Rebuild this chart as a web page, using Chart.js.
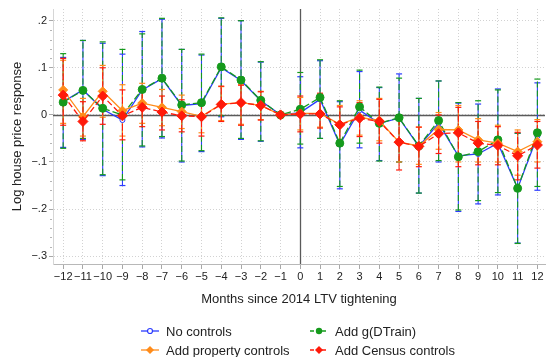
<!DOCTYPE html>
<html>
<head>
<meta charset="utf-8">
<script src="https://cdn.jsdelivr.net/npm/chart.js@4.4.1/dist/chart.umd.min.js"></script>
<style>
  html, body { margin: 0; padding: 0; background: #fff; }
  #wrap { position: relative; width: 551px; height: 357px; }
  #c { position: absolute; left: 0; top: 0; }
  .item { position: absolute; height: 16px; display: flex; align-items: center; white-space: nowrap;
          font: 13px 'Liberation Sans', Arial, Helvetica, sans-serif; color: #222; }
  .item svg { margin-right: 7px; }
</style>
</head>
<body>
<div id="wrap">
  <canvas id="c" width="551" height="357"></canvas>
  <div id="legend"></div>
</div>
<script>
// Event-study months around the 2014 LTV tightening
const months = [-12,-11,-10,-9,-8,-7,-6,-5,-4,-3,-2,-1,0,1,2,3,4,5,6,7,8,9,10,11,12];

// No controls
const noCtrl    = [0.028,0.053,0.012,-0.011,0.053,0.077,0.020,0.024,0.100,0.073,0.030,0,0.005,0.033,-0.063,0.010,-0.018,-0.007,-0.067,-0.018,-0.087,-0.083,-0.060,-0.156,-0.045];
const noCtrlLo  = [-0.069,-0.052,-0.129,-0.150,-0.068,-0.049,-0.100,-0.078,-0.004,-0.052,-0.056,null,-0.070,-0.050,-0.157,-0.070,-0.097,-0.100,-0.166,-0.100,-0.205,-0.189,-0.170,-0.272,-0.160];
const noCtrlHi  = [0.122,0.158,0.152,0.129,0.177,0.203,0.139,0.127,0.205,0.200,0.112,null,0.081,0.115,0.028,0.092,0.058,0.087,0.035,0.072,0.025,0.023,0.055,-0.039,0.068];

// Add g(DTrain)
const dtrain    = [0.027,0.052,0.014,0.000,0.054,0.078,0.021,0.026,0.102,0.074,0.031,0,0.012,0.037,-0.060,0.017,-0.018,-0.006,-0.066,-0.012,-0.089,-0.078,-0.053,-0.156,-0.038];
const dtrainLo  = [-0.071,-0.050,-0.127,-0.138,-0.066,-0.046,-0.098,-0.076,-0.002,-0.050,-0.055,null,-0.062,-0.050,-0.152,-0.060,-0.098,-0.100,-0.166,-0.097,-0.202,-0.182,-0.165,-0.273,-0.152];
const dtrainHi  = [0.130,0.158,0.155,0.139,0.172,0.205,0.139,0.129,0.206,0.200,0.113,null,0.090,0.117,0.030,0.095,0.059,0.078,0.035,0.072,0.026,0.030,0.053,-0.039,0.076];

// Add property controls
const propCtrl   = [0.053,-0.004,0.050,0.009,0.025,0.016,0.007,-0.003,0.023,0.026,0.020,0,0.003,0.003,-0.020,-0.005,-0.012,-0.058,-0.066,-0.031,-0.032,-0.053,-0.060,-0.078,-0.057];
const propCtrlLo = [-0.018,-0.045,-0.005,-0.045,-0.018,-0.023,-0.029,-0.038,-0.012,-0.020,-0.010,null,-0.032,-0.026,-0.060,-0.043,-0.055,-0.100,-0.105,-0.073,-0.100,-0.100,-0.100,-0.128,-0.100];
const propCtrlHi = [0.116,0.035,0.105,0.064,0.067,0.054,0.042,0.028,0.060,0.065,0.050,null,0.037,0.044,0.020,0.030,0.035,-0.002,-0.026,0.005,0.020,-0.008,-0.022,-0.032,-0.010];

// Add Census controls
const census    = [0.042,-0.014,0.040,-0.002,0.016,0.006,-0.002,-0.004,0.022,0.026,0.020,0,0.002,0.002,-0.021,-0.007,-0.014,-0.058,-0.067,-0.040,-0.038,-0.060,-0.065,-0.087,-0.064];
const censusLo  = [-0.022,-0.055,-0.020,-0.053,-0.025,-0.032,-0.036,-0.045,-0.014,-0.022,-0.011,null,-0.036,-0.028,-0.065,-0.046,-0.060,-0.117,-0.110,-0.082,-0.110,-0.106,-0.106,-0.138,-0.113];
const censusHi  = [0.120,0.028,0.100,0.053,0.053,0.040,0.032,0.020,0.061,0.063,0.049,null,0.040,0.046,0.017,0.026,0.033,0.000,-0.026,0.000,0.016,-0.014,-0.025,-0.037,-0.014];

const yTicks = [-0.3,-0.2,-0.1,0,0.1,0.2];

const BLUE = '#2b3bff', GREEN = '#159a1c', ORANGE = '#ff8c1a', RED = '#ff1a0a';
const FONT = "'Liberation Sans', Arial, Helvetica, sans-serif";

// point estimates as {x, y}
const pts = vals => months.map((m, i) => ({ x: m, y: vals[i] }));
// vertical interval segments: lo, hi, gap
function spans(lo, hi) {
  const out = [];
  months.forEach((m, i) => {
    if (lo[i] === null || hi[i] === null) return;
    out.push({ x: m, y: lo[i] }, { x: m, y: hi[i] }, { x: m, y: null });
  });
  return out;
}

function ciSet(lo, hi, color, dash, order) {
  return {
    data: spans(lo, hi), showLine: true, spanGaps: false, order,
    borderColor: color, borderWidth: 1.1, borderDash: dash,
    pointStyle: 'line', pointRadius: 3, pointBorderColor: color, pointBorderWidth: 1.2,
    pointHoverRadius: 0
  };
}
function estSet(vals, color, dash, style, radius, fill, order) {
  return {
    data: pts(vals), showLine: true, order,
    borderColor: color, borderWidth: 1.3, borderDash: dash,
    pointStyle: style, pointRadius: radius, pointBackgroundColor: fill,
    pointBorderColor: color, pointBorderWidth: 1, pointHoverRadius: radius
  };
}

// Zero reference lines plus minor y ticks
const refLines = {
  id: 'refLines',
  beforeDatasetsDraw(chart) {
    const { ctx, chartArea: a, scales: { x, y } } = chart;
    ctx.save();
    ctx.strokeStyle = '#5a5a5a';
    ctx.lineWidth = 1.3;
    const y0 = Math.round(y.getPixelForValue(0)) + 0.5;
    const x0 = Math.round(x.getPixelForValue(0)) + 0.5;
    ctx.beginPath();
    ctx.moveTo(a.left, y0); ctx.lineTo(a.right, y0);
    ctx.moveTo(x0, a.top); ctx.lineTo(x0, a.bottom);
    ctx.stroke();
    ctx.strokeStyle = '#b5b5b5';
    ctx.lineWidth = 1;
    ctx.beginPath();
    for (let k = -15; k <= 10; k++) {
      if (k % 5 === 0) continue;
      const py = Math.round(y.getPixelForValue(k * 0.02)) + 0.5;
      ctx.moveTo(a.left - 3, py); ctx.lineTo(a.left - 1, py);
    }
    ctx.stroke();
    ctx.restore();
  }
};

const fmt = v => (v < 0 ? '\u2212' : '') + Math.abs(v);
const fmtY = v => {
  if (Math.abs(v) < 1e-9) return '0';
  return (v < 0 ? '\u2212' : '') + Math.abs(v).toFixed(1).replace(/^0/, '');
};

new Chart(document.getElementById('c'), {
  type: 'scatter',
  data: {
    datasets: [
      ciSet(noCtrlLo, noCtrlHi, BLUE, [], 8),
      ciSet(dtrainLo, dtrainHi, GREEN, [6, 3], 7),
      ciSet(propCtrlLo, propCtrlHi, ORANGE, [], 6),
      ciSet(censusLo, censusHi, RED, [7, 2], 5),
      estSet(noCtrl, BLUE, [], 'circle', 2.5, '#ffffff', 4),
      estSet(dtrain, GREEN, [7, 3], 'circle', 4, GREEN, 3),
      estSet(propCtrl, ORANGE, [], 'rectRot', 4.5, ORANGE, 2),
      estSet(census, RED, [6, 3], 'rectRot', 5, RED, 1)
    ]
  },
  options: {
    responsive: false,
    devicePixelRatio: 1,
    animation: false,
    layout: { padding: { top: 9, right: 0, bottom: 50, left: 0 } },
    plugins: { legend: { display: false }, tooltip: { enabled: false } },
    events: [],
    scales: {
      x: {
        type: 'linear', min: -12.515, max: 12.385,
        afterBuildTicks: s => { s.ticks = months.map(v => ({ value: v })); },
        afterFit: s => { s.height = 43; },
        grid: { color: '#d2d2d2', tickLength: 5, tickColor: '#a8a8a8', tickBorderDash: [], tickWidth: 1 },
        border: { display: true, color: '#b8b8b8', width: 1, dash: [1, 2] },
        ticks: { callback: fmt, autoSkip: false, maxRotation: 0, padding: 1, color: '#222',
                 font: { family: FONT, size: 11 } },
        title: { display: true, text: 'Months since 2014 LTV tightening', color: '#222',
                 padding: { top: 0, bottom: 0 }, font: { family: FONT, size: 13 } }
      },
      y: {
        type: 'linear', min: -0.3166, max: 0.2248,
        afterBuildTicks: s => { s.ticks = yTicks.map(v => ({ value: v })); },
        afterFit: s => { s.width = 53; },
        grid: { color: '#d2d2d2', tickLength: 4, tickColor: '#a8a8a8', tickBorderDash: [], tickWidth: 1 },
        border: { display: true, color: '#d6d6d6', width: 1, dash: [1, 2] },
        ticks: { callback: fmtY, padding: 2, color: '#222', font: { family: FONT, size: 11 } },
        title: { display: true, text: 'Log house price response', color: '#222',
                 padding: { top: 10, bottom: 0 }, font: { family: FONT, size: 13 } }
      }
    }
  },
  plugins: [refLines]
});

// Legend: two columns, key line with marker
const legendItems = [
  { label: 'No controls',           color: BLUE,   dash: '',    marker: 'hollow',  x: 141, y: 323 },
  { label: 'Add g(DTrain)',         color: GREEN,  dash: '4 2', marker: 'circle',  x: 310, y: 323 },
  { label: 'Add property controls', color: ORANGE, dash: '',    marker: 'diamond', x: 141, y: 342 },
  { label: 'Add Census controls',   color: RED,    dash: '4 2', marker: 'diamond', x: 310, y: 342 }
];
const lg = document.getElementById('legend');
legendItems.forEach(it => {
  let mk;
  if (it.marker === 'hollow') mk = `<circle cx="9" cy="8" r="2.5" fill="#fff" stroke="${it.color}" stroke-width="1.2"/>`;
  else if (it.marker === 'circle') mk = `<circle cx="9" cy="8" r="3.2" fill="${it.color}"/>`;
  else mk = `<polygon points="9,4 13,8 9,12 5,8" fill="${it.color}"/>`;
  const div = document.createElement('div');
  div.className = 'item';
  div.style.left = it.x + 'px';
  div.style.top = it.y + 'px';
  div.innerHTML = `<svg width="18" height="16"><line x1="0" y1="8" x2="18" y2="8" stroke="${it.color}" stroke-width="1.3" stroke-dasharray="${it.dash}"/>${mk}</svg><span>${it.label}</span>`;
  lg.appendChild(div);
});
</script>
</body>
</html>
